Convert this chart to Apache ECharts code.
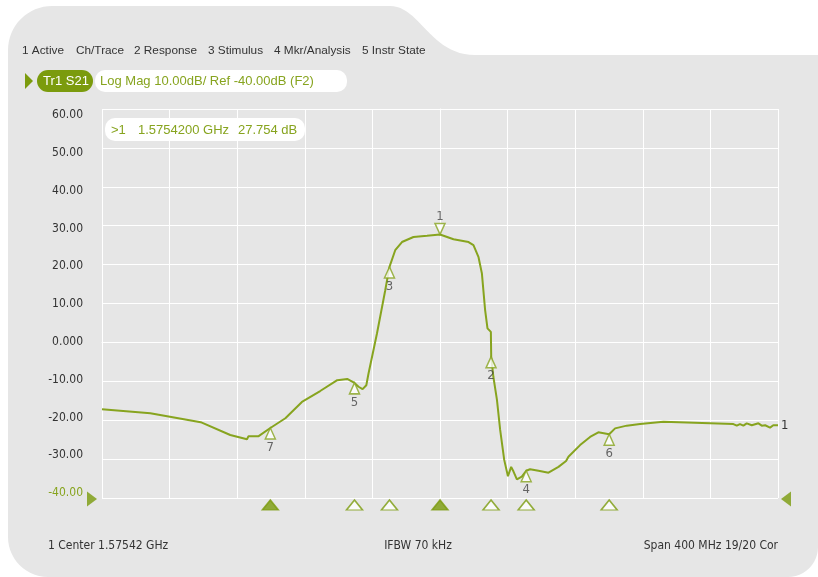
<!DOCTYPE html>
<html><head><meta charset="utf-8">
<script src="https://cdn.jsdelivr.net/npm/echarts@6/dist/echarts.min.js"></script>
<style>html,body{margin:0;padding:0;background:#fff;}#c{width:818px;height:577px;}</style>
</head><body><div id="c"></div>
<script>
// Frequency offsets from center (MHz), center = 1.57542 GHz, span 400 MHz
const traceFreqMHz = [-200,-171.4,-141.6,-124.1,-114.2,-113.3,-107.3,-100.4,-91.5,-81.7,-70.9,-60.8,-54.9,-50.6,-48.2,-45.8,-43.6,-42.3,-37.3,-32.4,-29.9,-26.5,-22.5,-15.7,-7.7,0,8.0,16.9,19.8,22.8,24.8,26.7,28.1,30.1,30.3,31.6,33.7,35.6,38.0,40.2,42.1,43.5,45.5,48.4,51.0,53.3,58.3,64.2,70.1,74.6,76.0,82.9,88.8,93.7,100.1,103.6,110.5,118.4,132.2,133.2,173.6,175.6,177.5,179.5,181.5,184.5,188.4,190.4,192.4,195.3,197.2,200];
const traceDb = [-17.2,-18.2,-20.5,-23.8,-24.9,-24.1,-24.1,-22.0,-19.5,-15.3,-12.5,-9.7,-9.4,-10.4,-11.4,-12.0,-11.0,-8.0,2.3,13.4,19.4,23.7,25.8,27.1,27.4,27.754,26.5,25.8,25.0,21.9,17.7,8.3,3.6,2.7,-3.7,-8.9,-14.8,-22.5,-30.2,-34.4,-32.0,-33.2,-35.2,-34.5,-33.0,-32.6,-33.0,-33.5,-32.0,-30.5,-29.4,-26.4,-24.3,-23.1,-23.6,-22.1,-21.4,-21.0,-20.4,-20.8,-21.0,-21.4,-21.0,-21.4,-20.8,-21.3,-20.8,-21.4,-21.3,-21.9,-21.3,-21.3];

const markerNames = ['7','5','3','1','2','4','6'];
const markerFreqMHz = [-100.4,-50.6,-29.9,0,30.2,51.0,100.1];
const markerDb = [-22.0,-10.4,19.4,27.754,-3.7,-33.0,-23.6];
const markerActive = [true,false,false,true,false,false,false];

const yTickValues = [-40,-30,-20,-10,0,10,20,30,40,50,60];
const menuItems = ['1 Active','Ch/Trace','2 Response','3 Stimulus','4 Mkr/Analysis','5 Instr State'];
const menuX = [22,76,134,208,274,362];
const traceLabel = 'Tr1 S21';
const formatLabel = 'Log Mag 10.00dB/ Ref -40.00dB (F2)';
const readoutParts = ['>1', '1.5754200 GHz', '27.754 dB'];
const footer = ['1 Center 1.57542 GHz', 'IFBW 70 kHz', 'Span 400 MHz 19/20 Cor'];

const GREEN = '#87a41f';
const DARKGREEN = '#7b9b0d';
const PANEL = '#e6e6e6';
const NARROW = "'Liberation Sans Narrow','DejaVu Sans Condensed',sans-serif";
const SANS = "'Liberation Sans',Arial,sans-serif";

// panel outline (decorative)
function arc(cx, cy, r, a0, a1, n) {
  const pts = [];
  for (let i = 0; i <= n; i++) {
    const a = (a0 + (a1 - a0) * i / n) * Math.PI / 180;
    pts.push([cx + r * Math.cos(a), cy + r * Math.sin(a)]);
  }
  return pts;
}
function cubic(p0, p1, p2, p3, n) {
  const pts = [];
  for (let i = 0; i <= n; i++) {
    const t = i / n, u = 1 - t;
    pts.push([
      u*u*u*p0[0] + 3*u*u*t*p1[0] + 3*u*t*t*p2[0] + t*t*t*p3[0],
      u*u*u*p0[1] + 3*u*u*t*p1[1] + 3*u*t*t*p2[1] + t*t*t*p3[1]
    ]);
  }
  return pts;
}
let panelPts = [];
panelPts = panelPts.concat(arc(52, 50, 44, 180, 270, 16));
panelPts = panelPts.concat(cubic([390,6],[420,6],[430,55],[475,55],24));
panelPts.push([818,55]);
panelPts = panelPts.concat(arc(788, 547, 30, 0, 90, 12));
panelPts = panelPts.concat(arc(48, 537, 40, 90, 180, 14));

const yAxisLabelFmt = v => {
  const s = Math.abs(v) < 1e-9 ? '0.000' : v.toFixed(2);
  return v === -40 ? '{g|' + s + '}' : s;
};

const markerUp = [], markerDown = [], bottomTri = [];
markerNames.forEach((n, i) => {
  const item = { name: n, value: [markerFreqMHz[i], markerDb[i]] };
  if (n === '1') markerDown.push(item); else markerUp.push(item);
  bottomTri.push({
    value: [markerFreqMHz[i], -40],
    itemStyle: { color: markerActive[i] ? DARKGREEN : '#ffffff', borderColor: DARKGREEN, borderWidth: 1.5 }
  });
});

const graphics = [
  { type: 'polygon', z: -100, shape: { points: panelPts }, style: { fill: PANEL } },
  { type: 'polygon', z: 100, shape: { points: [[25,73],[33,81],[25,89]] }, style: { fill: DARKGREEN } },
  { type: 'rect', z: 100, shape: { x: 37, y: 70, width: 56, height: 22, r: 11 }, style: { fill: DARKGREEN } },
  { type: 'text', z: 101, x: 66, y: 81, style: { text: traceLabel, fill: '#fff', font: '13px ' + SANS, align: 'center', verticalAlign: 'middle' } },
  { type: 'rect', z: 100, shape: { x: 95, y: 70, width: 252, height: 22, r: 10 }, style: { fill: '#fff' } },
  { type: 'text', z: 101, x: 100, y: 81, style: { text: formatLabel, fill: GREEN, font: '13px ' + SANS, verticalAlign: 'middle' } },
  { type: 'rect', z: 100, shape: { x: 105, y: 118, width: 200, height: 23, r: 10 }, style: { fill: '#fff' } },
  { type: 'text', z: 101, x: 111, y: 130, style: { text: readoutParts[0], fill: GREEN, font: '13px ' + SANS, verticalAlign: 'middle' } },
  { type: 'text', z: 101, x: 138, y: 130, style: { text: readoutParts[1], fill: GREEN, font: '13px ' + SANS, verticalAlign: 'middle' } },
  { type: 'text', z: 101, x: 238, y: 130, style: { text: readoutParts[2], fill: GREEN, font: '13px ' + SANS, verticalAlign: 'middle' } },
  { type: 'text', z: 101, x: 48, y: 546, style: { text: footer[0], fill: '#333', font: '12px ' + NARROW, verticalAlign: 'middle' } },
  { type: 'text', z: 101, x: 418, y: 546, style: { text: footer[1], fill: '#333', font: '12px ' + NARROW, align: 'center', verticalAlign: 'middle' } },
  { type: 'text', z: 101, x: 778, y: 546, style: { text: footer[2], fill: '#333', font: '12px ' + NARROW, align: 'right', verticalAlign: 'middle' } }
];
menuItems.forEach((t, i) => {
  graphics.push({ type: 'text', z: 101, x: menuX[i], y: 51, style: { text: t, fill: '#333', font: '11.8px ' + SANS, verticalAlign: 'middle' } });
});

const chart = echarts.init(document.getElementById('c'), null, { renderer: 'canvas' });
chart.setOption({
  backgroundColor: '#ffffff',
  animation: false,
  graphic: graphics,
  grid: { left: 102, top: 109, width: 676, height: 389, containLabel: false },
  xAxis: {
    type: 'value', min: -200, max: 200, interval: 40,
    axisLine: { show: true, lineStyle: { color: '#ffffff', width: 1 } },
    axisTick: { show: false }, axisLabel: { show: false },
    splitLine: { show: true, lineStyle: { color: '#ffffff', width: 1 } }
  },
  yAxis: [{
    type: 'value', min: -40, max: 60, interval: 10,
    axisLine: { show: true, lineStyle: { color: '#ffffff', width: 1 } },
    axisTick: { show: false }, axisLabel: { show: false },
    splitLine: { show: true, lineStyle: { color: '#ffffff', width: 1 } }
  }, {
    type: 'value', position: 'left', min: -41.323, max: 61.587,
    axisLine: { show: false }, axisTick: { show: false }, splitLine: { show: false },
    axisLabel: {
      show: true, customValues: yTickValues, margin: 19,
      color: '#333', fontSize: 12, fontFamily: NARROW,
      formatter: yAxisLabelFmt,
      rich: { g: { color: GREEN, fontSize: 12, fontFamily: NARROW } }
    }
  }],
  series: [
    {
      type: 'line', name: 'S21', yAxisIndex: 0,
      data: traceFreqMHz.map((f, i) => [f, traceDb[i]]),
      showSymbol: false, symbol: 'none',
      lineStyle: { color: GREEN, width: 2 },
      endLabel: { show: true, formatter: '1', color: '#333', fontSize: 13, fontFamily: NARROW, distance: 3 },
      z: 3
    },
    {
      type: 'scatter', yAxisIndex: 0, data: markerUp, clip: false,
      symbol: 'path://M5,0L10,10L0,10Z', symbolSize: [10, 11], symbolOffset: [0, 5.5],
      itemStyle: { color: '#ffffff', borderColor: GREEN, borderWidth: 1.5 },
      label: { show: true, position: 'bottom', distance: 1, formatter: p => p.name, color: '#444', fontSize: 13, fontFamily: NARROW },
      z: 5
    },
    {
      type: 'scatter', yAxisIndex: 0, data: markerDown, clip: false,
      symbol: 'path://M0,0L10,0L5,10Z', symbolSize: [10, 11], symbolOffset: [0, -5.5],
      itemStyle: { color: '#ffffff', borderColor: GREEN, borderWidth: 1.5 },
      label: { show: true, position: 'top', distance: 0, formatter: p => p.name, color: '#444', fontSize: 13, fontFamily: NARROW },
      z: 5
    },
    {
      type: 'scatter', yAxisIndex: 0, data: bottomTri, clip: false, silent: true,
      symbol: 'path://M8,0L16,10L0,10Z', symbolSize: [16, 10], symbolOffset: [0, 7],
      z: 5
    },
    {
      type: 'scatter', yAxisIndex: 0, clip: false, silent: true,
      data: [
        { value: [-200, -40], symbol: 'path://M0,0L10,8L0,16Z', symbolSize: [10, 15], symbolOffset: [-10, 1] },
        { value: [200, -40], symbol: 'path://M10,0L0,8L10,16Z', symbolSize: [10, 15], symbolOffset: [8, 1] }
      ],
      itemStyle: { color: DARKGREEN },
      z: 5
    }
  ]
});
</script>
</body></html>
